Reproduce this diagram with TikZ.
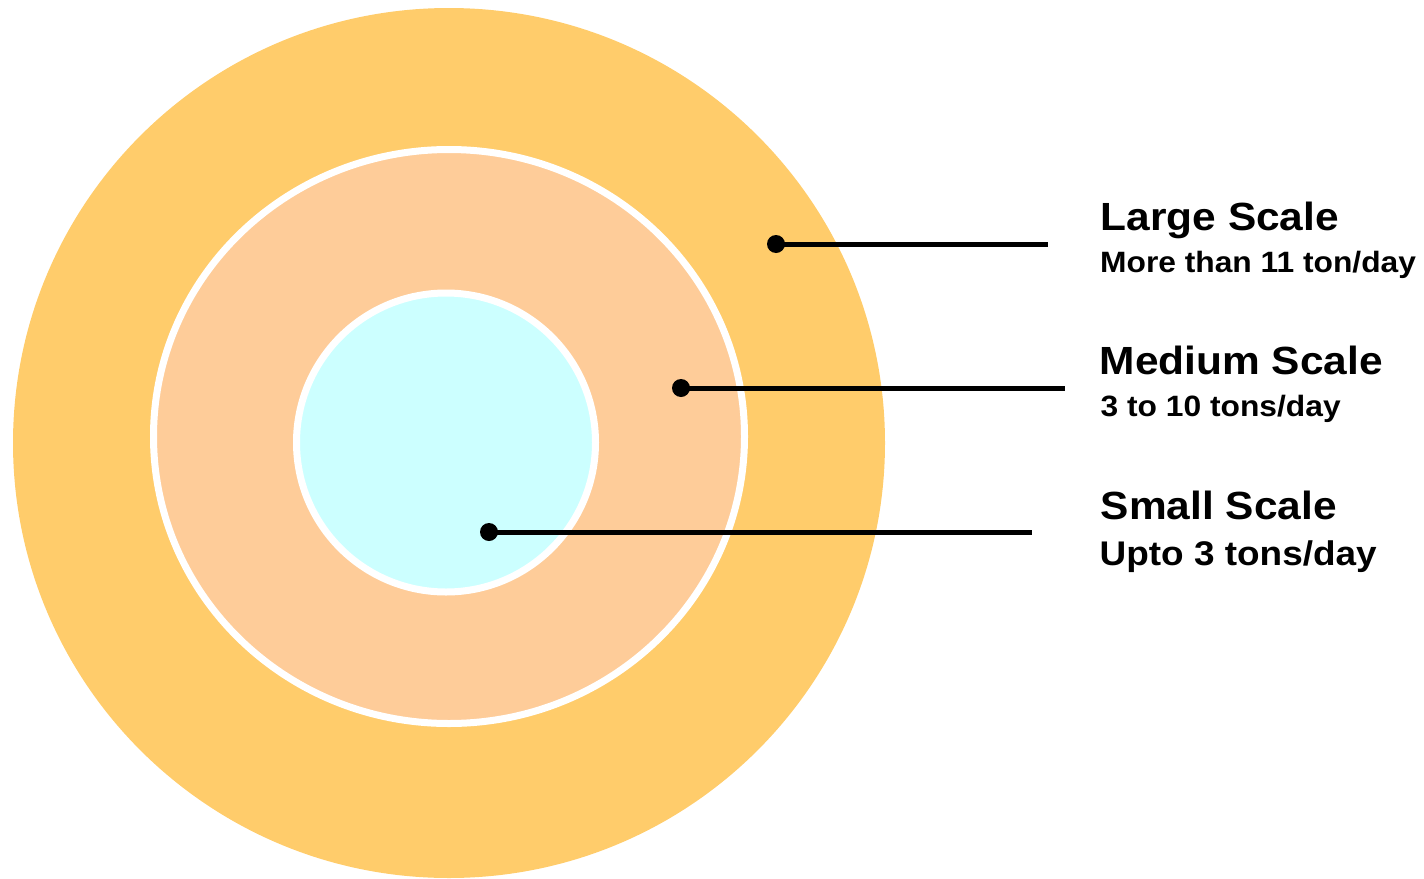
\documentclass[tikz,border=0pt]{standalone}
\usepackage{fontspec}
\setmainfont{Liberation Sans}[FakeStretch=1.08]
\definecolor{outerc}{HTML}{FFCC6B}
\definecolor{midc}{HTML}{FECC99}
\definecolor{innerc}{HTML}{CCFFFF}
\begin{document}
\begin{tikzpicture}[x=1pt,y=-1pt,
  ring/.style={draw=white,line width=7pt},
  dot/.style={circle,fill=black,inner sep=0pt,minimum size=18pt},
  leader/.style={line width=5pt,black},
  title/.style={anchor=base west,inner sep=0pt,font=\bfseries\fontsize{39.3}{45}\selectfont},
  sub/.style={anchor=base west,inner sep=0pt,font=\bfseries\fontsize{29.4}{34}\selectfont}]
\useasboundingbox (0,0) rectangle (1424,878);
\begin{scope}
\clip (0,0) rectangle (1424,878);
\fill[outerc] (449,443) ellipse [x radius=436, y radius=435];
\end{scope}
\filldraw[fill=midc,ring] (449,436.5) ellipse [x radius=295.5, y radius=287];
\filldraw[fill=innerc,ring] (446,442.5) circle [radius=149.5];
\node[dot] (d1) at (776,244) {};
\node[dot] (d2) at (681,388) {};
\node[dot] (d3) at (489,532) {};
\coordinate (e1) at (1048,244);
\coordinate (e2) at (1065,388);
\coordinate (e3) at (1032,532);
\draw[leader] (d1.center) -- (e1);
\draw[leader] (d2.center) -- (e2);
\draw[leader] (d3.center) -- (e3);
\node[title] (t1) at (1100.5,230) {Large Scale};
\node[sub] (s1) at (1100,272.5) {More than 11 ton/day};
\node[title] (t2) at (1099.5,374) {Medium Scale};
\node[sub] (s2) at (1100.5,416.5) {3 to 10 tons/day};
\node[title] (t3) at (1100.5,519) {Small Scale};
\node[sub,font=\bfseries\fontsize{34.2}{40}\selectfont] (s3) at (1099.5,565) {Upto 3 tons/day};
\end{tikzpicture}
\end{document}
